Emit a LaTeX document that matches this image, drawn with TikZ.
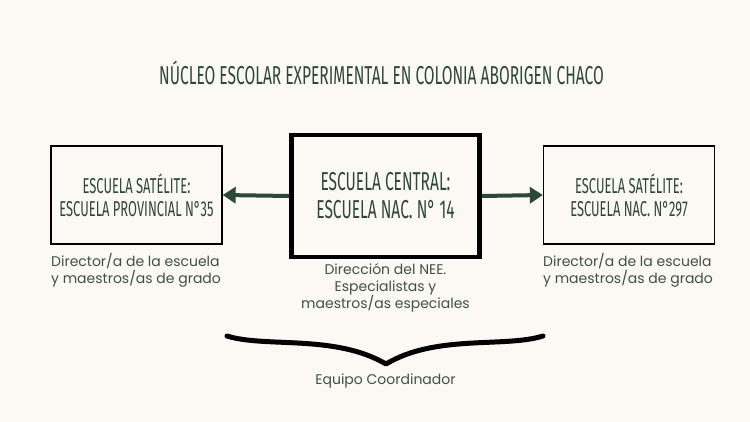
\documentclass[tikz,border=0pt]{standalone}
\usepackage{fontspec}
\setmainfont{Poppins}
\newfontfamily\condfont[FakeStretch=0.6]{Fira Sans}
\usetikzlibrary{arrows.meta}
\definecolor{bg}{HTML}{FCF9F5}
\definecolor{ink}{HTML}{2F4738}
\definecolor{txt}{HTML}{3F5045}
\tikzset{
  sbox/.style={draw=black, line width=1.3pt, minimum width=171pt, minimum height=98pt, inner sep=0pt, align=center, text=ink, font=\condfont\fontsize{21.5}{23}\selectfont},
  cbox/.style={draw=black, line width=4.5pt, minimum width=188pt, minimum height=122pt, inner sep=0pt, align=center, text=ink, font=\condfont\fontsize{25.9}{28}\selectfont},
  desc/.style={text=txt, font=\fontsize{14}{17}\selectfont, inner sep=0pt},
  arr/.style={draw=ink, line width=4pt, -{Triangle[length=13pt,width=16pt]}},
  brace/.style={draw=black, line width=5pt, line cap=round, line join=round}
}
\begin{document}
\begin{tikzpicture}[x=1pt,y=-1pt]
\useasboundingbox[fill=bg] (0,0) rectangle (750,422);
\node[text=ink, font=\condfont\fontsize{25.9}{27}\selectfont, inner sep=0pt] (title) at (381.5,73) {NÚCLEO ESCOLAR EXPERIMENTAL EN COLONIA ABORIGEN CHACO};
\node[sbox] (l) at (136.5,195) {ESCUELA SATÉLITE:\\ESCUELA PROVINCIAL N°35};
\node[cbox] (c) at (385.5,196) {ESCUELA CENTRAL:\\ESCUELA NAC. N° 14};
\node[sbox] (r) at (629,195) {ESCUELA SATÉLITE:\\ESCUELA NAC. N°297};
\draw[arr] (c.west) -- (l.east);
\draw[arr] (c.east) -- (r.east -| r.west);
\node[desc, anchor=north west, align=left] (ld) at (51,253) {Director/a de la escuela\\y maestros/as de grado};
\node[desc, anchor=north, align=center] (cd) at (385.5,263) {Dirección del NEE.\\Especialistas y\\maestros/as especiales};
\node[desc, anchor=north west, align=left] (rd) at (543,253) {Director/a de la escuela\\y maestros/as de grado};
\coordinate (b1) at (227,336);
\coordinate (bt) at (386,364);
\coordinate (b2) at (543,336);
\draw[brace] (b1) .. controls (265,348) and (335,334) .. (bt) .. controls (436,334) and (505,348) .. (b2);
\node[desc, text=txt] (eq) at (385.5,381) {Equipo Coordinador};
\end{tikzpicture}
\end{document}
